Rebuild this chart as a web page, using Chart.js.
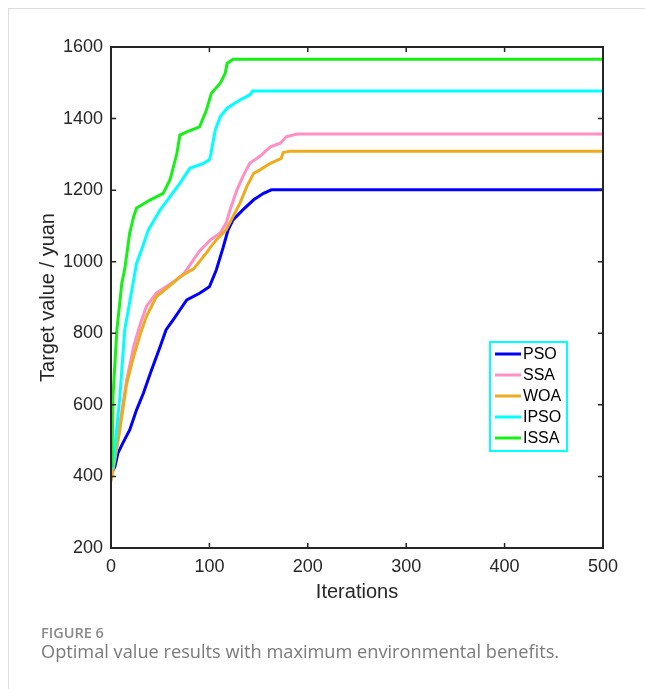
<!DOCTYPE html>
<html>
<head>
<meta charset="utf-8">
<script src="https://cdn.jsdelivr.net/npm/chart.js@4.4.1/dist/chart.umd.min.js"></script>
<style>
  body { margin: 0; background: #fff; }
  #wrap { position: relative; width: 645px; height: 689px; overflow: hidden; }
  #chart { position: absolute; left: 0; top: 0; }
  .frameTop { position: absolute; left: 8px; top: 8px; width: 637px; height: 1px; background: #dcdcdc; }
  .frameLeft { position: absolute; left: 8px; top: 8px; width: 1px; height: 681px; background: #dcdcdc; }
  .figNo { position: absolute; left: 41px; top: 623px; font: 600 14.5px "Open Sans", sans-serif; color: #8a8a8a; white-space: nowrap; }
  .figText { position: absolute; left: 41px; top: 639px; font: 400 18.2px "Open Sans", sans-serif; color: #7a7a7a; white-space: nowrap; }
</style>
</head>
<body>
<div id="wrap">
  <div class="frameTop"></div>
  <div class="frameLeft"></div>
  <canvas id="chart" width="645" height="689"></canvas>
  <div class="figNo">FIGURE 6</div>
  <div class="figText">Optimal value results with maximum environmental benefits.</div>
</div>
<script>
// series (iteration, target value)
const psoIter = [0, 4, 7, 12, 19, 26, 33, 40, 50, 56, 63, 70, 77, 90, 100, 107, 114, 119, 124, 134, 145, 155, 163, 500];
const psoVal  = [405, 428, 465, 493, 530, 586, 633, 688, 763, 810, 837, 865, 893, 912, 930, 977, 1040, 1089, 1117, 1145, 1173, 1191, 1201, 1201];

const ssaIter = [0, 4, 9, 16, 23, 30, 36, 46, 56, 73, 90, 101, 111, 117, 121, 128, 134, 141, 151, 162, 172, 178, 189, 500];
const ssaVal  = [418, 456, 549, 670, 763, 828, 875, 912, 930, 962, 1030, 1061, 1080, 1108, 1145, 1201, 1238, 1275, 1294, 1321, 1331, 1349, 1357, 1357];

const woaIter = [0, 4, 9, 16, 23, 30, 36, 46, 63, 70, 84, 97, 101, 107, 117, 124, 131, 138, 145, 151, 162, 173, 175, 182, 500];
const woaVal  = [386, 447, 530, 660, 735, 800, 847, 902, 940, 958, 980, 1025, 1040, 1061, 1089, 1126, 1163, 1210, 1247, 1256, 1275, 1289, 1305, 1309, 1309];

const ipsoIter = [0, 2, 4, 9, 14, 23, 26, 31, 38, 50, 60, 70, 80, 94, 100, 101, 106, 111, 118, 131, 141, 144, 500];
const ipsoVal  = [420, 428, 483, 623, 810, 949, 996, 1033, 1089, 1145, 1182, 1219, 1261, 1275, 1285, 1294, 1368, 1405, 1429, 1452, 1466, 1477, 1477];

const issaIter = [0, 1, 2, 6, 11, 14, 19, 23, 26, 40, 53, 60, 67, 70, 77, 90, 97, 102, 111, 116, 118, 124, 500];
const issaVal  = [430, 438, 623, 810, 940, 980, 1080, 1126, 1150, 1173, 1191, 1229, 1303, 1354, 1363, 1377, 1424, 1471, 1499, 1526, 1554, 1566, 1566];

const labels = ['PSO', 'SSA', 'WOA', 'IPSO', 'ISSA'];
const colors = ['#0000ff', '#ff8fc4', '#edac1e', '#00ffff', '#16f016'];

const xTicks = [0, 100, 200, 300, 400, 500];
const yTicks = [200, 400, 600, 800, 1000, 1200, 1400, 1600];

const axisColor = '#262626';
const tickFont = '"Liberation Sans", Arial, sans-serif';

function pts(xs, ys) {
    return xs.map((x, i) => ({ x: x, y: ys[i] }));
}

const series = [[psoIter, psoVal], [ssaIter, ssaVal], [woaIter, woaVal], [ipsoIter, ipsoVal], [issaIter, issaVal]];

// box, inward ticks, axis titles and legend
const matlabBox = {
    id: 'matlabBox',
    afterDatasetsDraw(chart) {
        const { ctx, chartArea: a, scales } = chart;
        ctx.save();
        ctx.strokeStyle = axisColor;
        ctx.lineWidth = 2;
        ctx.strokeRect(a.left, a.top, a.right - a.left, a.bottom - a.top);
        ctx.lineWidth = 1.5;
        ctx.beginPath();
        xTicks.forEach(v => {
            const px = scales.x.getPixelForValue(v);
            ctx.moveTo(px, a.bottom); ctx.lineTo(px, a.bottom - 5);
            ctx.moveTo(px, a.top); ctx.lineTo(px, a.top + 5);
        });
        yTicks.forEach(v => {
            const py = scales.y.getPixelForValue(v);
            ctx.moveTo(a.left, py); ctx.lineTo(a.left + 5, py);
            ctx.moveTo(a.right, py); ctx.lineTo(a.right - 5, py);
        });
        ctx.stroke();

        // axis titles
        ctx.fillStyle = axisColor;
        ctx.font = '20px ' + tickFont;
        ctx.textAlign = 'center';
        ctx.textBaseline = 'middle';
        ctx.fillText('Iterations', (a.left + a.right) / 2, 592);
        ctx.translate(48, (a.top + a.bottom) / 2);
        ctx.rotate(-Math.PI / 2);
        ctx.fillText('Target value / yuan', 0, 0);
        ctx.setTransform(1, 0, 0, 1, 0, 0);

        // legend
        const lx = 490, ly = 342, lw = 77, lh = 109;
        ctx.fillStyle = '#fff';
        ctx.fillRect(lx, ly, lw, lh);
        ctx.strokeStyle = '#00ffff';
        ctx.lineWidth = 2;
        ctx.strokeRect(lx, ly, lw, lh);
        ctx.font = '16px ' + tickFont;
        ctx.textAlign = 'left';
        chart.data.datasets.forEach((ds, i) => {
            const ry = ly + 12 + i * 21;
            ctx.strokeStyle = ds.borderColor;
            ctx.lineWidth = 3;
            ctx.beginPath();
            ctx.moveTo(lx + 5, ry); ctx.lineTo(lx + 31, ry);
            ctx.stroke();
            ctx.fillStyle = '#000';
            ctx.fillText(ds.label, lx + 33, ry + 1);
        });
        ctx.restore();
    }
};

new Chart(document.getElementById('chart'), {
    type: 'line',
    data: {
        datasets: series.map((s, i) => ({
            label: labels[i],
            data: pts(s[0], s[1]),
            borderColor: colors[i],
            backgroundColor: colors[i],
            borderWidth: 3,
            pointRadius: 0,
            tension: 0,
            fill: false,
            order: labels.length - i
        }))
    },
    options: {
        responsive: false,
        animation: false,
        layout: { padding: { top: 47, right: 42, left: 0, bottom: 0 } },
        plugins: { legend: { display: false }, tooltip: { enabled: false } },
        scales: {
            x: {
                type: 'linear',
                min: 0, max: 500,
                afterFit: s => { s.height = 141; },
                afterBuildTicks: s => { s.ticks = xTicks.map(v => ({ value: v })); },
                grid: { display: false, drawTicks: false },
                border: { display: false },
                ticks: { color: axisColor, font: { family: tickFont, size: 18 }, padding: 8, maxRotation: 0,
                         callback: v => String(v) }
            },
            y: {
                type: 'linear',
                min: 200, max: 1600,
                afterFit: s => { s.width = 111; },
                afterBuildTicks: s => { s.ticks = yTicks.map(v => ({ value: v })); },
                grid: { display: false, drawTicks: false },
                border: { display: false },
                ticks: { color: axisColor, font: { family: tickFont, size: 18 }, padding: 8,
                         callback: v => String(v) }
            }
        }
    },
    plugins: [matlabBox]
});
</script>
</body>
</html>
